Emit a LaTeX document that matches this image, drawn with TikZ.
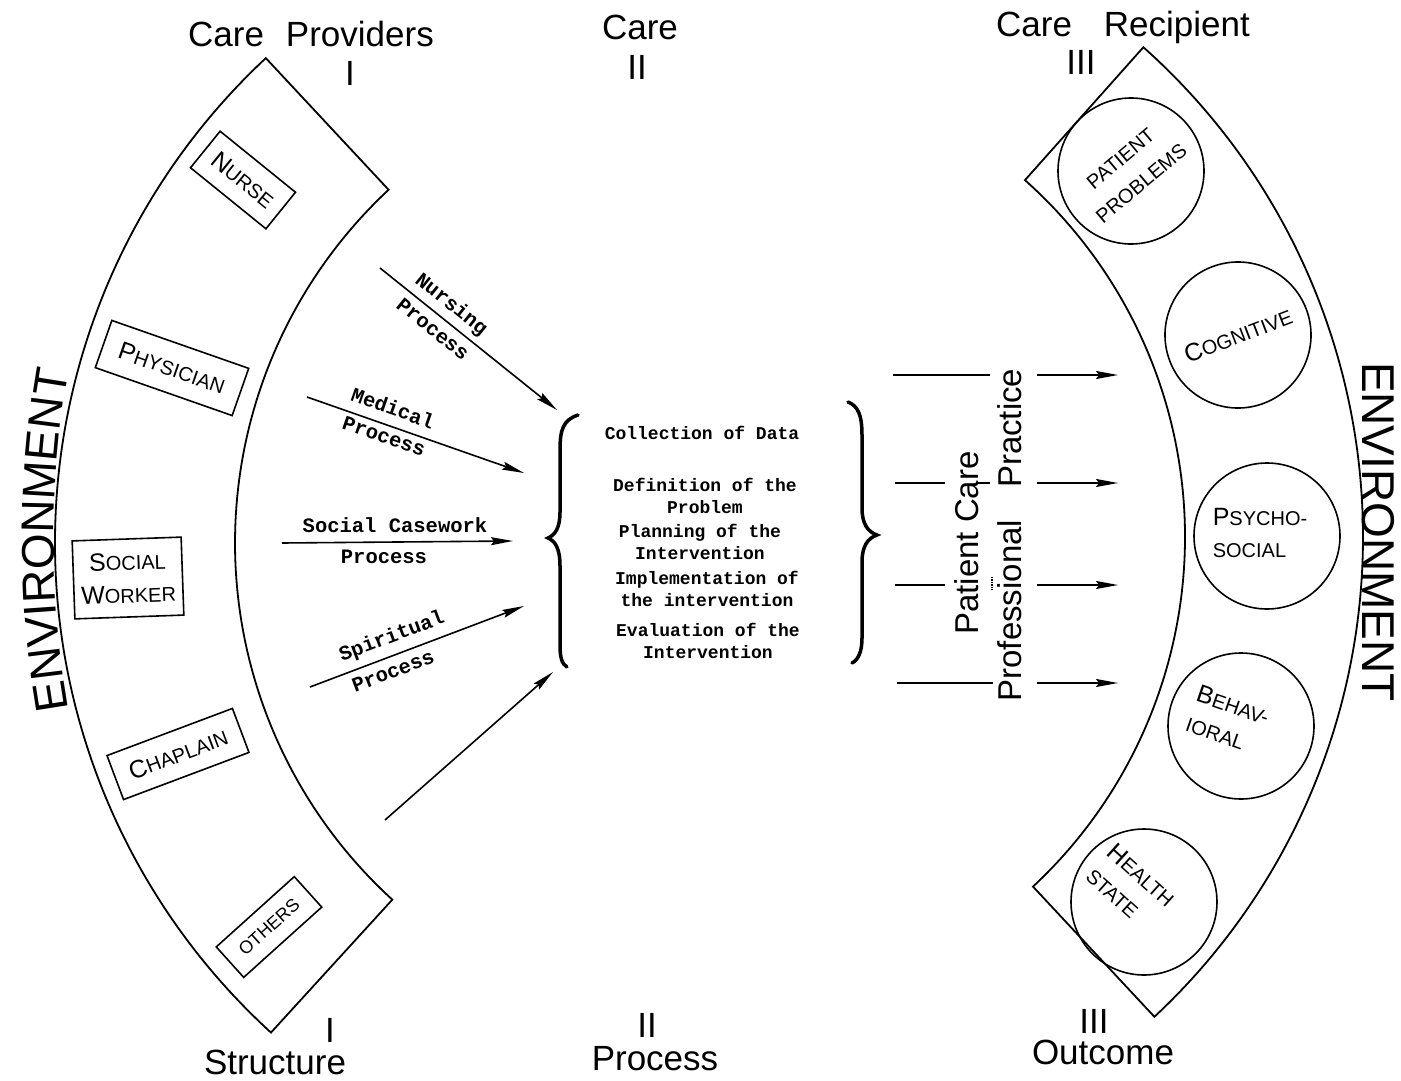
\documentclass[tikz,border=0pt]{standalone}
\usepackage{fontspec}
\setmainfont{Liberation Sans}
\newfontfamily\monofont{Liberation Mono}
\usetikzlibrary{arrows.meta,calc,decorations.text}
\newcommand{\Bg}[1]{{\fontsize{25}{33}\selectfont #1}}
\begin{document}
\begin{tikzpicture}[x=1pt,y=1pt,
  band/.style={line width=1.8pt},
  pbox/.style={draw, line width=1.6pt, rectangle, inner sep=0pt, align=center, font=\fontsize{20}{33}\selectfont},
  pcirc/.style={draw, line width=1.6pt, circle, minimum size=146pt, inner sep=0pt},
  clabel/.style={font=\fontsize{20}{32}\selectfont, inner sep=0pt},
  head/.style={font=\fontsize{35}{40}\selectfont, inner sep=0pt, anchor=base},
  envtext/.style={font=\fontsize{46}{50}\selectfont, inner sep=0pt, anchor=base},
  vtext/.style={font=\fontsize{33}{36}\selectfont, inner sep=0pt, anchor=base, rotate=90},
  proc/.style={font=\monofont\bfseries\fontsize{20.5}{24}\selectfont, inner sep=0pt},
  listitem/.style={font=\monofont\bfseries\fontsize{18}{22}\selectfont, align=center, inner sep=0pt},
  arr/.style={line width=1.6pt, -{Stealth[length=22pt,width=8pt,inset=3pt]}},
  seg/.style={line width=1.6pt},
  bracestyle/.style={line width=3.5pt, line cap=round}
]
\fill[white] (0,0) rectangle (1401,-1081);
\useasboundingbox (0,0) rectangle (1401,-1081);

% ---- bands
\coordinate (Lc) at (718,-543);
\draw[band] ($(Lc)+(133:663)$) arc[start angle=133, end angle=227.6, radius=663]
  -- ($(Lc)+(227.6:483)$) arc[start angle=227.6, end angle=133, radius=483] -- cycle;
\coordinate (Rc) at (707,-537);
\draw[band] ($(Rc)+(48.3:656)$) arc[start angle=48.3, end angle=-47, radius=656]
  -- ($(Rc)+(-47:478)$) arc[start angle=-47, end angle=48.3, radius=478] -- cycle;

% ---- headings
\node[head] (hcp) at (311,-47) {Care\hspace{22pt}Providers};
\node[head] (hI) at (350,-85) {I};
\node[head] (hc) at (640,-40) {Care};
\node[head] (hII) at (637,-80) {II};
\node[head] (hcr) at (1123,-37) {Care\hspace{32pt}Recipient};
\node[head] (hIII) at (1081,-75) {III};
\node[head] (bI) at (330,-1042) {I};
\node[head] (bstr) at (275,-1074) {Structure};
\node[head] (bII) at (647,-1037) {II};
\node[head] (bproc) at (655,-1070) {Process};
\node[head] (bIII) at (1094,-1033) {III};
\node[head] (bout) at (1103,-1064) {Outcome};

% ---- environment
\coordinate (Ec) at (1045,-540);
\path[decorate, decoration={text along path, text align=center,
   text={|\fontsize{46}{50}\selectfont|ENVIRONMENT}}]
   ($(Ec)+(192:991)$) arc[start angle=192, end angle=168, radius=991];
\node[envtext, rotate=-90] (envR) at (1362,-532) {ENVIRONMENT};

% ---- care providers
\node[pbox, minimum width=97pt, minimum height=47pt, rotate=-39] (nurse) at (243,-180) {\Bg{N}URSE};
\node[pbox, minimum width=145pt, minimum height=50pt, rotate=-19.3] (phys) at (172,-368) {\Bg{P}HYSICIAN};
\node[pbox, minimum width=109pt, minimum height=78pt, rotate=2] (social) at (128,-578) {\Bg{S}OCIAL\\\Bg{W}ORKER};
\node[pbox, minimum width=134pt, minimum height=47pt, rotate=20.6] (chap) at (178,-754) {\Bg{C}HAPLAIN};
\node[pbox, minimum width=105pt, minimum height=41pt, rotate=42, font=\fontsize{18}{30}\selectfont] (others) at (269,-927) {OTHERS};

% ---- process arrows
\coordinate (nA) at (380,-268); \coordinate (nB) at (557,-410);
\coordinate (mA) at (307,-397); \coordinate (mB) at (524,-473);
\coordinate (sA) at (282,-543); \coordinate (sB) at (513,-541);
\coordinate (pA) at (310,-687); \coordinate (pB) at (524,-606);
\coordinate (oA) at (385,-820); \coordinate (oB) at (553,-672);
\draw[arr] (nA) -- (nB);
\draw[arr] (mA) -- (mB);
\draw[arr] (sA) -- (sB);
\draw[arr] (pA) -- (pB);
\draw[arr] (oA) -- (oB);
\node[proc, rotate=-38.7] (nurlab) at (451,-305) {Nursing};
\node[proc, rotate=-38.7] (nurproc) at (433,-329) {Process};
\node[proc, rotate=-19.3] (medlab) at (393,-408) {Medical};
\node[proc, rotate=-19.3] (medproc) at (384,-436) {Process};
\node[proc] (soclab) at (395,-525) {Social Casework};
\node[proc] (socproc) at (384,-557) {Process};
\node[proc, rotate=20.7] (spilab) at (392,-637) {Spiritual};
\node[proc, rotate=20.7] (spiproc) at (393,-671) {Process};

% ---- braces
\draw[bracestyle] (578,-415) .. controls (563,-420) and (560,-430) .. (560,-450) -- (560,-512)
  .. controls (560,-528) and (555,-535) .. (548,-538)
  .. controls (555,-541) and (560,-548) .. (560,-566) -- (560,-645)
  .. controls (560,-658) and (562,-664) .. (567,-667);
\draw[bracestyle] (848,-402) .. controls (858,-406) and (862,-415) .. (862,-435) -- (862,-508)
  .. controls (862,-524) and (868,-532) .. (877,-535)
  .. controls (868,-538) and (862,-546) .. (862,-562) -- (862,-638)
  .. controls (862,-652) and (858,-660) .. (852,-663);

% ---- list
\node[listitem] (l1) at (702,-433) {Collection of Data};
\node[listitem] (l2) at (705,-496) {Definition of the\\Problem};
\node[listitem] (l3) at (700,-542) {Planning of the\\Intervention};
\node[listitem] (l4) at (707,-589) {Implementation of\\the intervention};
\node[listitem] (l5) at (708,-641) {Evaluation of the\\Intervention};

% ---- right side arrows
\coordinate (r1a) at (893,-375); \coordinate (r1b) at (990,-375);
\coordinate (r1c) at (1037,-375); \coordinate (r1d) at (1118,-375);
\coordinate (r2a) at (895,-483); \coordinate (r2b) at (945,-483);
\coordinate (r2c) at (1037,-483); \coordinate (r2d) at (1118,-483);
\coordinate (r3a) at (895,-585); \coordinate (r3b) at (945,-585);
\coordinate (r3c) at (1037,-585); \coordinate (r3d) at (1118,-585);
\coordinate (r4a) at (897,-683); \coordinate (r4b) at (993,-683);
\coordinate (r4c) at (1037,-683); \coordinate (r4d) at (1118,-683);
\draw[seg] (r1a) -- (r1b); \draw[arr] (r1c) -- (r1d);
\draw[seg] (r2a) -- (r2b); \draw[arr] (r2c) -- (r2d);
\draw[seg] (r3a) -- (r3b); \draw[arr] (r3c) -- (r3d);
\draw[seg] (r4a) -- (r4b); \draw[arr] (r4c) -- (r4d);
\node[vtext] (pcare) at (978,-543) {Patient Care};
\node[vtext] (ppract) at (1021,-535) {Professional\hspace{32pt}Practice};
\draw[line width=1.4pt] (978,-483) -- (990,-483);
\draw[line width=1.4pt, densely dotted] (992,-577) -- (992,-590);

% ---- care recipient
\node[pcirc, rotate=40, align=center, font=\fontsize{20}{32}\selectfont] (cpp) at (1131,-171) {PATIENT\\PROBLEMS};
\node[pcirc, rotate=21, font=\fontsize{20}{32}\selectfont] (ccog) at (1238,-335) {\Bg{C}OGNITIVE};
\node[pcirc] (cpsy) at (1267,-536) {};
\node[pcirc] (cbeh) at (1241,-726) {};
\node[pcirc] (chs) at (1144,-902) {};
\node[clabel, align=left] (tpsy) at (1260,-533) {\Bg{P}SYCHO-\\SOCIAL};
\node[clabel, rotate=-19, align=left] (tbeh) at (1228,-720) {\Bg{B}EHAV-\\IORAL};
\node[clabel, rotate=-42, align=left] (ths) at (1131,-887) {\Bg{H}EALTH\\STATE};
\end{tikzpicture}
\end{document}
